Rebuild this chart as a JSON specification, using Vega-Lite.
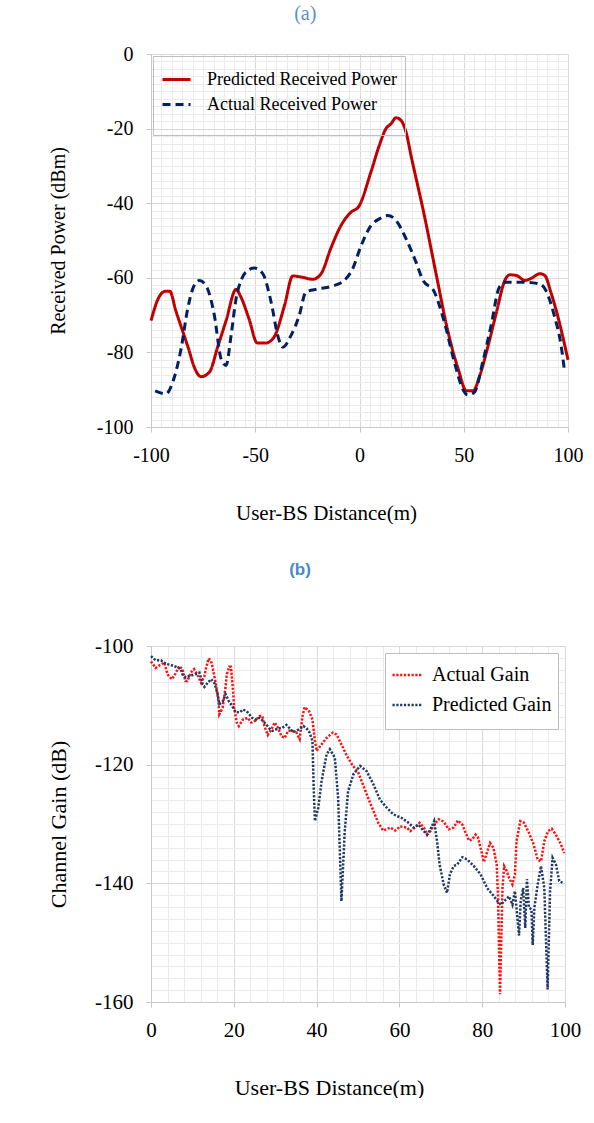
{
  "$schema": "https://vega.github.io/schema/vega-lite/v6.json",
  "background": "white",
  "padding": {"left": 47, "top": 4, "right": 0, "bottom": 0},
  "spacing": 38,
  "title": {"text": "(a)", "font": "Liberation Serif", "fontSize": 20, "fontWeight": "normal", "color": "#5b8fd6", "offset": 20, "anchor": "middle", "dx": -10},
  "resolve": {"scale": {"color": "independent", "strokeDash": "independent", "x": "independent", "y": "independent"}, "legend": {"color": "independent", "strokeDash": "independent"}},
  "config": {
    "view": {"stroke": null},
    "font": "Liberation Serif",
    "axis": {"labelColor": "black", "titleColor": "black", "titleFontWeight": "normal", "labelFont": "Liberation Serif", "titleFont": "Liberation Serif"}
  },
  "datasets": {
    "a": [
      {"s": "Predicted Received Power", "d": -100, "v": -71.5},
      {"s": "Predicted Received Power", "d": -96, "v": -65},
      {"s": "Predicted Received Power", "d": -93, "v": -63.6},
      {"s": "Predicted Received Power", "d": -91, "v": -63.6},
      {"s": "Predicted Received Power", "d": -88, "v": -69},
      {"s": "Predicted Received Power", "d": -85, "v": -74},
      {"s": "Predicted Received Power", "d": -82, "v": -79},
      {"s": "Predicted Received Power", "d": -79.2, "v": -84},
      {"s": "Predicted Received Power", "d": -76, "v": -86.5},
      {"s": "Predicted Received Power", "d": -72, "v": -85.3},
      {"s": "Predicted Received Power", "d": -68, "v": -78.5},
      {"s": "Predicted Received Power", "d": -64, "v": -71.5},
      {"s": "Predicted Received Power", "d": -59.2, "v": -63.1},
      {"s": "Predicted Received Power", "d": -57, "v": -65},
      {"s": "Predicted Received Power", "d": -53, "v": -71},
      {"s": "Predicted Received Power", "d": -49, "v": -77.5},
      {"s": "Predicted Received Power", "d": -45, "v": -77.5},
      {"s": "Predicted Received Power", "d": -41, "v": -75.9},
      {"s": "Predicted Received Power", "d": -36, "v": -67.5},
      {"s": "Predicted Received Power", "d": -32, "v": -59.5},
      {"s": "Predicted Received Power", "d": -28, "v": -59.8},
      {"s": "Predicted Received Power", "d": -22.4, "v": -60.4},
      {"s": "Predicted Received Power", "d": -18.4, "v": -58.9},
      {"s": "Predicted Received Power", "d": -13.7, "v": -52},
      {"s": "Predicted Received Power", "d": -8.9, "v": -46},
      {"s": "Predicted Received Power", "d": -4.1, "v": -42.4},
      {"s": "Predicted Received Power", "d": -0.5, "v": -41},
      {"s": "Predicted Received Power", "d": 5.5, "v": -31.6},
      {"s": "Predicted Received Power", "d": 9.5, "v": -24.5},
      {"s": "Predicted Received Power", "d": 12.7, "v": -20},
      {"s": "Predicted Received Power", "d": 15.1, "v": -18.7},
      {"s": "Predicted Received Power", "d": 17.5, "v": -17.1},
      {"s": "Predicted Received Power", "d": 19.9, "v": -17.8},
      {"s": "Predicted Received Power", "d": 22.3, "v": -20.9},
      {"s": "Predicted Received Power", "d": 24.7, "v": -27.2},
      {"s": "Predicted Received Power", "d": 31.1, "v": -43.3},
      {"s": "Predicted Received Power", "d": 36.9, "v": -59.4},
      {"s": "Predicted Received Power", "d": 42.5, "v": -74.6},
      {"s": "Predicted Received Power", "d": 47.3, "v": -84.4},
      {"s": "Predicted Received Power", "d": 51.3, "v": -90.3},
      {"s": "Predicted Received Power", "d": 54.5, "v": -90.3},
      {"s": "Predicted Received Power", "d": 57.7, "v": -86.2},
      {"s": "Predicted Received Power", "d": 61.7, "v": -78.2},
      {"s": "Predicted Received Power", "d": 65.7, "v": -69.2},
      {"s": "Predicted Received Power", "d": 69.7, "v": -60.7},
      {"s": "Predicted Received Power", "d": 72.1, "v": -59.2},
      {"s": "Predicted Received Power", "d": 75.3, "v": -59.4},
      {"s": "Predicted Received Power", "d": 79.3, "v": -60.7},
      {"s": "Predicted Received Power", "d": 82.5, "v": -60.1},
      {"s": "Predicted Received Power", "d": 86.5, "v": -58.9},
      {"s": "Predicted Received Power", "d": 88.9, "v": -59.4},
      {"s": "Predicted Received Power", "d": 91.8, "v": -63.9},
      {"s": "Predicted Received Power", "d": 95, "v": -70.1},
      {"s": "Predicted Received Power", "d": 100, "v": -82},
      {"s": "Actual Received Power", "d": -98, "v": -90.3},
      {"s": "Actual Received Power", "d": -92.8, "v": -91.1},
      {"s": "Actual Received Power", "d": -89.6, "v": -88},
      {"s": "Actual Received Power", "d": -85.6, "v": -79.1},
      {"s": "Actual Received Power", "d": -82.4, "v": -68.3},
      {"s": "Actual Received Power", "d": -80, "v": -63},
      {"s": "Actual Received Power", "d": -76.8, "v": -60.7},
      {"s": "Actual Received Power", "d": -73.6, "v": -62.1},
      {"s": "Actual Received Power", "d": -69.6, "v": -70.1},
      {"s": "Actual Received Power", "d": -66.4, "v": -81.7},
      {"s": "Actual Received Power", "d": -64, "v": -83.5},
      {"s": "Actual Received Power", "d": -61.6, "v": -75.5},
      {"s": "Actual Received Power", "d": -59.2, "v": -65.6},
      {"s": "Actual Received Power", "d": -56.8, "v": -60.7},
      {"s": "Actual Received Power", "d": -53.6, "v": -58},
      {"s": "Actual Received Power", "d": -50.4, "v": -57.4},
      {"s": "Actual Received Power", "d": -46.4, "v": -58.9},
      {"s": "Actual Received Power", "d": -42.4, "v": -66.5},
      {"s": "Actual Received Power", "d": -39.2, "v": -75.5},
      {"s": "Actual Received Power", "d": -36.8, "v": -78.6},
      {"s": "Actual Received Power", "d": -32.9, "v": -75.5},
      {"s": "Actual Received Power", "d": -28.9, "v": -70.1},
      {"s": "Actual Received Power", "d": -25.7, "v": -63.8},
      {"s": "Actual Received Power", "d": -20.1, "v": -63},
      {"s": "Actual Received Power", "d": -12.9, "v": -62.2},
      {"s": "Actual Received Power", "d": -7.3, "v": -60.7},
      {"s": "Actual Received Power", "d": -3.3, "v": -57.6},
      {"s": "Actual Received Power", "d": 0.7, "v": -51.5},
      {"s": "Actual Received Power", "d": 5.5, "v": -46},
      {"s": "Actual Received Power", "d": 9.5, "v": -44.2},
      {"s": "Actual Received Power", "d": 13.5, "v": -43.3},
      {"s": "Actual Received Power", "d": 17.5, "v": -44.6},
      {"s": "Actual Received Power", "d": 22.3, "v": -49.5},
      {"s": "Actual Received Power", "d": 27.1, "v": -55.8},
      {"s": "Actual Received Power", "d": 30.3, "v": -60.5},
      {"s": "Actual Received Power", "d": 35.9, "v": -63.8},
      {"s": "Actual Received Power", "d": 40.7, "v": -71.9},
      {"s": "Actual Received Power", "d": 45.5, "v": -82.6},
      {"s": "Actual Received Power", "d": 49.5, "v": -89.8},
      {"s": "Actual Received Power", "d": 51.9, "v": -91.4},
      {"s": "Actual Received Power", "d": 55.1, "v": -90.7},
      {"s": "Actual Received Power", "d": 59.1, "v": -82.6},
      {"s": "Actual Received Power", "d": 63.1, "v": -72.8},
      {"s": "Actual Received Power", "d": 67.1, "v": -62.5},
      {"s": "Actual Received Power", "d": 70.3, "v": -61.2},
      {"s": "Actual Received Power", "d": 79.1, "v": -61.2},
      {"s": "Actual Received Power", "d": 86.3, "v": -61.6},
      {"s": "Actual Received Power", "d": 89.4, "v": -63.4},
      {"s": "Actual Received Power", "d": 93.4, "v": -70.1},
      {"s": "Actual Received Power", "d": 96.7, "v": -78.2},
      {"s": "Actual Received Power", "d": 98.2, "v": -84.4}
    ],
    "b": [
      {"s": "Actual Gain", "d": 0, "v": -102.6},
      {"s": "Actual Gain", "d": 1.1, "v": -103.7},
      {"s": "Actual Gain", "d": 2.4, "v": -103.1},
      {"s": "Actual Gain", "d": 3.2, "v": -102.8},
      {"s": "Actual Gain", "d": 4, "v": -104.8},
      {"s": "Actual Gain", "d": 5, "v": -105.6},
      {"s": "Actual Gain", "d": 5.8, "v": -104.8},
      {"s": "Actual Gain", "d": 6.8, "v": -103.4},
      {"s": "Actual Gain", "d": 7.6, "v": -103.9},
      {"s": "Actual Gain", "d": 8.3, "v": -105.9},
      {"s": "Actual Gain", "d": 8.8, "v": -105.9},
      {"s": "Actual Gain", "d": 9.6, "v": -104.5},
      {"s": "Actual Gain", "d": 10.4, "v": -103.9},
      {"s": "Actual Gain", "d": 11.2, "v": -104.8},
      {"s": "Actual Gain", "d": 12.1, "v": -106.2},
      {"s": "Actual Gain", "d": 12.9, "v": -105.1},
      {"s": "Actual Gain", "d": 13.3, "v": -103.7},
      {"s": "Actual Gain", "d": 13.9, "v": -102.1},
      {"s": "Actual Gain", "d": 14.5, "v": -102.5},
      {"s": "Actual Gain", "d": 14.9, "v": -103.7},
      {"s": "Actual Gain", "d": 15.7, "v": -106.5},
      {"s": "Actual Gain", "d": 16.3, "v": -109.3},
      {"s": "Actual Gain", "d": 16.5, "v": -111.5},
      {"s": "Actual Gain", "d": 17.3, "v": -110.4},
      {"s": "Actual Gain", "d": 18, "v": -107},
      {"s": "Actual Gain", "d": 18.3, "v": -104.8},
      {"s": "Actual Gain", "d": 18.9, "v": -103.5},
      {"s": "Actual Gain", "d": 19.3, "v": -103.5},
      {"s": "Actual Gain", "d": 19.7, "v": -106.5},
      {"s": "Actual Gain", "d": 20.1, "v": -110.4},
      {"s": "Actual Gain", "d": 20.7, "v": -112.9},
      {"s": "Actual Gain", "d": 21.2, "v": -113.5},
      {"s": "Actual Gain", "d": 22.2, "v": -112.4},
      {"s": "Actual Gain", "d": 23.4, "v": -112.1},
      {"s": "Actual Gain", "d": 24.2, "v": -112.9},
      {"s": "Actual Gain", "d": 25.2, "v": -112.6},
      {"s": "Actual Gain", "d": 26.2, "v": -111.8},
      {"s": "Actual Gain", "d": 26.9, "v": -111.8},
      {"s": "Actual Gain", "d": 27.4, "v": -113.5},
      {"s": "Actual Gain", "d": 28.2, "v": -115},
      {"s": "Actual Gain", "d": 29.1, "v": -114},
      {"s": "Actual Gain", "d": 29.9, "v": -112.9},
      {"s": "Actual Gain", "d": 30.7, "v": -113.8},
      {"s": "Actual Gain", "d": 31.5, "v": -115.2},
      {"s": "Actual Gain", "d": 32.3, "v": -115.5},
      {"s": "Actual Gain", "d": 33.1, "v": -114.3},
      {"s": "Actual Gain", "d": 33.9, "v": -114.3},
      {"s": "Actual Gain", "d": 35.1, "v": -114.6},
      {"s": "Actual Gain", "d": 35.9, "v": -115.7},
      {"s": "Actual Gain", "d": 36.6, "v": -111.8},
      {"s": "Actual Gain", "d": 37.1, "v": -110.3},
      {"s": "Actual Gain", "d": 38.2, "v": -111},
      {"s": "Actual Gain", "d": 39, "v": -112.4},
      {"s": "Actual Gain", "d": 39.6, "v": -116},
      {"s": "Actual Gain", "d": 40, "v": -117.7},
      {"s": "Actual Gain", "d": 41.2, "v": -116.6},
      {"s": "Actual Gain", "d": 42.4, "v": -115.5},
      {"s": "Actual Gain", "d": 43.9, "v": -114.6},
      {"s": "Actual Gain", "d": 44.8, "v": -114.9},
      {"s": "Actual Gain", "d": 46, "v": -116.6},
      {"s": "Actual Gain", "d": 47.3, "v": -118.5},
      {"s": "Actual Gain", "d": 48.5, "v": -119.9},
      {"s": "Actual Gain", "d": 50.1, "v": -121.4},
      {"s": "Actual Gain", "d": 52.1, "v": -125},
      {"s": "Actual Gain", "d": 53.7, "v": -127.8},
      {"s": "Actual Gain", "d": 54.9, "v": -129.8},
      {"s": "Actual Gain", "d": 56.1, "v": -131.1},
      {"s": "Actual Gain", "d": 57.8, "v": -130.6},
      {"s": "Actual Gain", "d": 59, "v": -131.1},
      {"s": "Actual Gain", "d": 60.2, "v": -130.4},
      {"s": "Actual Gain", "d": 61.8, "v": -130.6},
      {"s": "Actual Gain", "d": 62.6, "v": -131.2},
      {"s": "Actual Gain", "d": 63.8, "v": -130.6},
      {"s": "Actual Gain", "d": 64.9, "v": -129.8},
      {"s": "Actual Gain", "d": 65.9, "v": -130.6},
      {"s": "Actual Gain", "d": 66.7, "v": -131.8},
      {"s": "Actual Gain", "d": 67.5, "v": -131.2},
      {"s": "Actual Gain", "d": 68.4, "v": -130.1},
      {"s": "Actual Gain", "d": 69.5, "v": -129.2},
      {"s": "Actual Gain", "d": 70.7, "v": -129.6},
      {"s": "Actual Gain", "d": 71.9, "v": -130.9},
      {"s": "Actual Gain", "d": 73.1, "v": -130.6},
      {"s": "Actual Gain", "d": 74.1, "v": -129.4},
      {"s": "Actual Gain", "d": 75.2, "v": -130.1},
      {"s": "Actual Gain", "d": 76, "v": -131.5},
      {"s": "Actual Gain", "d": 76.8, "v": -132.8},
      {"s": "Actual Gain", "d": 77.6, "v": -132.6},
      {"s": "Actual Gain", "d": 78.4, "v": -131.8},
      {"s": "Actual Gain", "d": 79, "v": -132.3},
      {"s": "Actual Gain", "d": 79.8, "v": -134.6},
      {"s": "Actual Gain", "d": 80.4, "v": -136.4},
      {"s": "Actual Gain", "d": 81.1, "v": -134.9},
      {"s": "Actual Gain", "d": 81.9, "v": -133.2},
      {"s": "Actual Gain", "d": 82.7, "v": -134},
      {"s": "Actual Gain", "d": 83.5, "v": -136.8},
      {"s": "Actual Gain", "d": 83.8, "v": -141.9},
      {"s": "Actual Gain", "d": 84.3, "v": -158.7},
      {"s": "Actual Gain", "d": 84.9, "v": -140.8},
      {"s": "Actual Gain", "d": 85.3, "v": -137.1},
      {"s": "Actual Gain", "d": 85.9, "v": -137.9},
      {"s": "Actual Gain", "d": 86.5, "v": -139.1},
      {"s": "Actual Gain", "d": 87.3, "v": -140.2},
      {"s": "Actual Gain", "d": 87.9, "v": -138.5},
      {"s": "Actual Gain", "d": 88.3, "v": -132.9},
      {"s": "Actual Gain", "d": 89.2, "v": -129.5},
      {"s": "Actual Gain", "d": 90.1, "v": -129.8},
      {"s": "Actual Gain", "d": 91.3, "v": -131.5},
      {"s": "Actual Gain", "d": 92.4, "v": -133.4},
      {"s": "Actual Gain", "d": 93.4, "v": -136},
      {"s": "Actual Gain", "d": 94.2, "v": -136.3},
      {"s": "Actual Gain", "d": 95, "v": -132.9},
      {"s": "Actual Gain", "d": 95.9, "v": -131.2},
      {"s": "Actual Gain", "d": 96.8, "v": -130.8},
      {"s": "Actual Gain", "d": 97.8, "v": -131.8},
      {"s": "Actual Gain", "d": 99, "v": -133.4},
      {"s": "Actual Gain", "d": 99.8, "v": -134.9},
      {"s": "Predicted Gain", "d": 0, "v": -101.7},
      {"s": "Predicted Gain", "d": 1.1, "v": -102.4},
      {"s": "Predicted Gain", "d": 2.4, "v": -102.4},
      {"s": "Predicted Gain", "d": 3.6, "v": -103},
      {"s": "Predicted Gain", "d": 4.8, "v": -103.2},
      {"s": "Predicted Gain", "d": 6, "v": -103.5},
      {"s": "Predicted Gain", "d": 7.2, "v": -103.9},
      {"s": "Predicted Gain", "d": 7.6, "v": -104.8},
      {"s": "Predicted Gain", "d": 8.4, "v": -105.3},
      {"s": "Predicted Gain", "d": 9.2, "v": -105.1},
      {"s": "Predicted Gain", "d": 10.4, "v": -104.8},
      {"s": "Predicted Gain", "d": 11.7, "v": -104.5},
      {"s": "Predicted Gain", "d": 12.5, "v": -106.5},
      {"s": "Predicted Gain", "d": 12.9, "v": -106.9},
      {"s": "Predicted Gain", "d": 13.7, "v": -106.2},
      {"s": "Predicted Gain", "d": 14.5, "v": -105.6},
      {"s": "Predicted Gain", "d": 15.3, "v": -106.2},
      {"s": "Predicted Gain", "d": 16.1, "v": -108.1},
      {"s": "Predicted Gain", "d": 16.5, "v": -109.8},
      {"s": "Predicted Gain", "d": 17.3, "v": -109.4},
      {"s": "Predicted Gain", "d": 18, "v": -108.1},
      {"s": "Predicted Gain", "d": 18.8, "v": -109.3},
      {"s": "Predicted Gain", "d": 19.6, "v": -110.1},
      {"s": "Predicted Gain", "d": 20.4, "v": -111.1},
      {"s": "Predicted Gain", "d": 21.4, "v": -111.2},
      {"s": "Predicted Gain", "d": 22.3, "v": -110.7},
      {"s": "Predicted Gain", "d": 23.4, "v": -111.2},
      {"s": "Predicted Gain", "d": 24.4, "v": -112.1},
      {"s": "Predicted Gain", "d": 25.4, "v": -112.4},
      {"s": "Predicted Gain", "d": 26.2, "v": -112.1},
      {"s": "Predicted Gain", "d": 27, "v": -112.6},
      {"s": "Predicted Gain", "d": 27.8, "v": -113.2},
      {"s": "Predicted Gain", "d": 28.6, "v": -113.9},
      {"s": "Predicted Gain", "d": 29.4, "v": -114.3},
      {"s": "Predicted Gain", "d": 30.7, "v": -113.9},
      {"s": "Predicted Gain", "d": 31.7, "v": -113.8},
      {"s": "Predicted Gain", "d": 32.7, "v": -113.3},
      {"s": "Predicted Gain", "d": 33.5, "v": -113.9},
      {"s": "Predicted Gain", "d": 34.3, "v": -114.5},
      {"s": "Predicted Gain", "d": 35.1, "v": -114.3},
      {"s": "Predicted Gain", "d": 35.9, "v": -114},
      {"s": "Predicted Gain", "d": 36.8, "v": -113.5},
      {"s": "Predicted Gain", "d": 37.6, "v": -113.9},
      {"s": "Predicted Gain", "d": 38.3, "v": -114.6},
      {"s": "Predicted Gain", "d": 39, "v": -116},
      {"s": "Predicted Gain", "d": 39.3, "v": -124},
      {"s": "Predicted Gain", "d": 39.6, "v": -129.5},
      {"s": "Predicted Gain", "d": 40.4, "v": -127.3},
      {"s": "Predicted Gain", "d": 41.2, "v": -122.8},
      {"s": "Predicted Gain", "d": 42.4, "v": -118.3},
      {"s": "Predicted Gain", "d": 43.2, "v": -117.4},
      {"s": "Predicted Gain", "d": 44.4, "v": -118.8},
      {"s": "Predicted Gain", "d": 45.2, "v": -125.6},
      {"s": "Predicted Gain", "d": 46, "v": -143},
      {"s": "Predicted Gain", "d": 46.8, "v": -131.2},
      {"s": "Predicted Gain", "d": 47.6, "v": -124.5},
      {"s": "Predicted Gain", "d": 48.9, "v": -121.6},
      {"s": "Predicted Gain", "d": 50.5, "v": -120.2},
      {"s": "Predicted Gain", "d": 52.1, "v": -121.1},
      {"s": "Predicted Gain", "d": 53.7, "v": -123.3},
      {"s": "Predicted Gain", "d": 55.3, "v": -125.9},
      {"s": "Predicted Gain", "d": 57, "v": -127.3},
      {"s": "Predicted Gain", "d": 58.6, "v": -128.4},
      {"s": "Predicted Gain", "d": 60.6, "v": -129},
      {"s": "Predicted Gain", "d": 62.2, "v": -129.8},
      {"s": "Predicted Gain", "d": 63.4, "v": -130.6},
      {"s": "Predicted Gain", "d": 64.6, "v": -130.1},
      {"s": "Predicted Gain", "d": 65.9, "v": -131.2},
      {"s": "Predicted Gain", "d": 66.7, "v": -131.8},
      {"s": "Predicted Gain", "d": 67.5, "v": -130.9},
      {"s": "Predicted Gain", "d": 68.4, "v": -129.5},
      {"s": "Predicted Gain", "d": 69.1, "v": -132.9},
      {"s": "Predicted Gain", "d": 69.7, "v": -136.8},
      {"s": "Predicted Gain", "d": 70.7, "v": -140.2},
      {"s": "Predicted Gain", "d": 71.5, "v": -141.6},
      {"s": "Predicted Gain", "d": 72.2, "v": -138.5},
      {"s": "Predicted Gain", "d": 73.1, "v": -137.1},
      {"s": "Predicted Gain", "d": 74, "v": -136.8},
      {"s": "Predicted Gain", "d": 75.2, "v": -135.6},
      {"s": "Predicted Gain", "d": 76.4, "v": -136},
      {"s": "Predicted Gain", "d": 78, "v": -137.1},
      {"s": "Predicted Gain", "d": 79.6, "v": -138.5},
      {"s": "Predicted Gain", "d": 81.2, "v": -140.8},
      {"s": "Predicted Gain", "d": 82.5, "v": -141.9},
      {"s": "Predicted Gain", "d": 83.7, "v": -143},
      {"s": "Predicted Gain", "d": 84.5, "v": -143.6},
      {"s": "Predicted Gain", "d": 85.3, "v": -143},
      {"s": "Predicted Gain", "d": 86.5, "v": -142.2},
      {"s": "Predicted Gain", "d": 87.3, "v": -143.6},
      {"s": "Predicted Gain", "d": 87.9, "v": -141.3},
      {"s": "Predicted Gain", "d": 88.9, "v": -148.8},
      {"s": "Predicted Gain", "d": 89.3, "v": -143},
      {"s": "Predicted Gain", "d": 89.9, "v": -140.8},
      {"s": "Predicted Gain", "d": 90.4, "v": -147.5},
      {"s": "Predicted Gain", "d": 90.8, "v": -139.3},
      {"s": "Predicted Gain", "d": 91.3, "v": -144.1},
      {"s": "Predicted Gain", "d": 91.9, "v": -144.4},
      {"s": "Predicted Gain", "d": 92.2, "v": -150.4},
      {"s": "Predicted Gain", "d": 92.6, "v": -144.1},
      {"s": "Predicted Gain", "d": 93.4, "v": -140.2},
      {"s": "Predicted Gain", "d": 94.2, "v": -137.1},
      {"s": "Predicted Gain", "d": 95, "v": -140.8},
      {"s": "Predicted Gain", "d": 95.8, "v": -157.9},
      {"s": "Predicted Gain", "d": 96.4, "v": -141.3},
      {"s": "Predicted Gain", "d": 97, "v": -135.7},
      {"s": "Predicted Gain", "d": 97.8, "v": -136.8},
      {"s": "Predicted Gain", "d": 98.6, "v": -139.6},
      {"s": "Predicted Gain", "d": 99.4, "v": -139.9}
    ]
  },
  "vconcat": [
    {
      "width": 417,
      "height": 373,
      "data": {"name": "a"},
      "layer": [
        {
          "mark": {"type": "line", "opacity": 0},
          "encoding": {
            "x": {"field": "d", "type": "quantitative", "scale": {"domain": [-100, 100], "nice": false},
              "axis": {"orient": "top", "values": [-100,-95,-90,-85,-80,-75,-70,-65,-60,-55,-50,-45,-40,-35,-30,-25,-20,-15,-10,-5,0,5,10,15,20,25,30,35,40,45,50,55,60,65,70,75,80,85,90,95,100], "grid": true, "gridColor": "#ebebeb", "gridWidth": 1, "labels": false, "ticks": false, "domain": false, "title": null}},
            "y": {"field": "v", "type": "quantitative", "scale": {"domain": [-100, 0], "nice": false},
              "axis": {"orient": "right", "values": [-100,-98,-96,-94,-92,-90,-88,-86,-84,-82,-80,-78,-76,-74,-72,-70,-68,-66,-64,-62,-60,-58,-56,-54,-52,-50,-48,-46,-44,-42,-40,-38,-36,-34,-32,-30,-28,-26,-24,-22,-20,-18,-16,-14,-12,-10,-8,-6,-4,-2,0], "grid": true, "gridColor": "#ebebeb", "gridWidth": 1, "labels": false, "ticks": false, "domain": false, "title": null}}
          }
        },
        {
          "mark": {"type": "line", "strokeWidth": 3, "interpolate": "monotone"},
          "encoding": {
            "x": {"field": "d", "type": "quantitative", "scale": {"domain": [-100, 100], "nice": false},
              "axis": {"orient": "bottom", "values": [-100, -50, 0, 50, 100], "labelExpr": "'' + datum.value", "grid": true, "gridColor": "#d9d9d9", "domainColor": "#c8c8c8", "tickColor": "#c8c8c8", "tickSize": 5, "labelFont": "Liberation Serif", "labelFontSize": 20, "labelPadding": 13, "labelFlush": false, "title": "User-BS Distance(m)", "titleFont": "Liberation Serif", "titleFontSize": 21, "titlePadding": 37, "titleX": 175}},
            "y": {"field": "v", "type": "quantitative", "scale": {"domain": [-100, 0], "nice": false},
              "axis": {"orient": "left", "values": [-100, -80, -60, -40, -20, 0], "labelExpr": "'' + datum.value", "grid": true, "gridColor": "#d9d9d9", "domainColor": "#c8c8c8", "tickColor": "#c8c8c8", "tickSize": 5, "labelFont": "Liberation Serif", "labelFontSize": 20, "labelPadding": 13, "title": "Received Power (dBm)", "titleFont": "Liberation Serif", "titleFontSize": 20, "titlePadding": 28}},
            "color": {"field": "s", "type": "nominal", "scale": {"domain": ["Predicted Received Power", "Actual Received Power"], "range": ["#c00000", "#002060"]},
              "legend": {"orient": "none", "legendX": 2, "legendY": 2, "title": " ", "titleOrient": "bottom", "titleFontSize": 8, "titlePadding": 5, "padding": 8, "strokeColor": "#bfbfbf", "fillColor": null, "symbolType": "stroke", "symbolSize": 784, "symbolStrokeWidth": 3, "labelFont": "Liberation Serif", "labelFontSize": 18, "labelColor": "black", "labelOffset": 15, "rowPadding": -5, "labelLimit": 400,
                "encode": {"symbols": {"update": {"strokeDash": {"signal": "datum.value === 'Actual Received Power' ? [4, 3] : [1, 0]"}}}}}},
            "strokeDash": {"field": "s", "type": "nominal", "scale": {"domain": ["Predicted Received Power", "Actual Received Power"], "range": [[1, 0], [8, 5]]},
              "legend": {"orient": "none", "legendX": 2, "legendY": 2, "title": " ", "titleOrient": "bottom", "titleFontSize": 8, "titlePadding": 5, "padding": 8, "strokeColor": "#bfbfbf", "fillColor": null, "symbolType": "stroke", "symbolSize": 784, "symbolStrokeWidth": 3, "labelFont": "Liberation Serif", "labelFontSize": 18, "labelColor": "black", "labelOffset": 15, "rowPadding": -5, "labelLimit": 400,
                "encode": {"symbols": {"update": {"strokeDash": {"signal": "datum.value === 'Actual Received Power' ? [4, 3] : [1, 0]"}}}}}}
          }
        }
      ],
      "resolve": {"axis": {"x": "independent", "y": "independent"}}
    },
    {
      "width": 414,
      "height": 356,
      "title": {"text": "(b)", "font": "Liberation Sans", "fontSize": 17, "fontWeight": "bold", "color": "#4a86d0", "offset": 56, "anchor": "middle", "dx": -58},
      "data": {"name": "b"},
      "layer": [
        {
          "mark": {"type": "line", "opacity": 0},
          "encoding": {
            "x": {"field": "d", "type": "quantitative", "scale": {"domain": [0, 100], "nice": false},
              "axis": {"orient": "top", "values": [0,4,8,12,16,20,24,28,32,36,40,44,48,52,56,60,64,68,72,76,80,84,88,92,96,100], "grid": true, "gridColor": "#ebebeb", "gridWidth": 1, "labels": false, "ticks": false, "domain": false, "title": null}},
            "y": {"field": "v", "type": "quantitative", "scale": {"domain": [-160, -100], "nice": false},
              "axis": {"orient": "right", "values": [-160,-158,-156,-154,-152,-150,-148,-146,-144,-142,-140,-138,-136,-134,-132,-130,-128,-126,-124,-122,-120,-118,-116,-114,-112,-110,-108,-106,-104,-102,-100], "grid": true, "gridColor": "#ebebeb", "gridWidth": 1, "labels": false, "ticks": false, "domain": false, "title": null}}
          }
        },
        {
          "mark": {"type": "line", "strokeWidth": 2.5},
          "encoding": {
            "x": {"field": "d", "type": "quantitative", "scale": {"domain": [0, 100], "nice": false},
              "axis": {"orient": "bottom", "values": [0, 20, 40, 60, 80, 100], "labelExpr": "'' + datum.value", "grid": true, "gridColor": "#d9d9d9", "domainColor": "#c8c8c8", "tickColor": "#c8c8c8", "tickSize": 5, "labelFont": "Liberation Serif", "labelFontSize": 21, "labelPadding": 12, "labelFlush": false, "title": "User-BS Distance(m)", "titleFont": "Liberation Serif", "titleFontSize": 22, "titlePadding": 37, "titleX": 178}},
            "y": {"field": "v", "type": "quantitative", "scale": {"domain": [-160, -100], "nice": false},
              "axis": {"orient": "left", "values": [-160, -140, -120, -100], "labelExpr": "'' + datum.value", "grid": true, "gridColor": "#d9d9d9", "domainColor": "#c8c8c8", "tickColor": "#c8c8c8", "tickSize": 5, "labelFont": "Liberation Serif", "labelFontSize": 21, "labelPadding": 13, "title": "Channel Gain (dB)", "titleFont": "Liberation Serif", "titleFontSize": 22, "titlePadding": 24}},
            "color": {"field": "s", "type": "nominal", "scale": {"domain": ["Actual Gain", "Predicted Gain"], "range": ["#ff1010", "#1f3864"]},
              "legend": {"orient": "none", "legendX": 234, "legendY": 7, "title": " ", "titleOrient": "bottom", "titleFontSize": 5, "titlePadding": 3, "padding": 6, "strokeColor": "#bfbfbf", "fillColor": "white", "symbolType": "stroke", "symbolSize": 841, "symbolStrokeWidth": 2.5, "labelFont": "Liberation Serif", "labelFontSize": 20, "labelColor": "black", "labelOffset": 9, "rowPadding": 4, "labelLimit": 400}},
            "strokeDash": {"field": "s", "type": "nominal", "scale": {"domain": ["Actual Gain", "Predicted Gain"], "range": [[2.2, 1.6], [2.2, 1.6]]},
              "legend": {"orient": "none", "legendX": 234, "legendY": 7, "title": " ", "titleOrient": "bottom", "titleFontSize": 5, "titlePadding": 3, "padding": 6, "strokeColor": "#bfbfbf", "fillColor": "white", "symbolType": "stroke", "symbolSize": 841, "symbolStrokeWidth": 2.5, "labelFont": "Liberation Serif", "labelFontSize": 20, "labelColor": "black", "labelOffset": 9, "rowPadding": 4, "labelLimit": 400}}
          }
        }
      ],
      "resolve": {"axis": {"x": "independent", "y": "independent"}}
    }
  ]
}
